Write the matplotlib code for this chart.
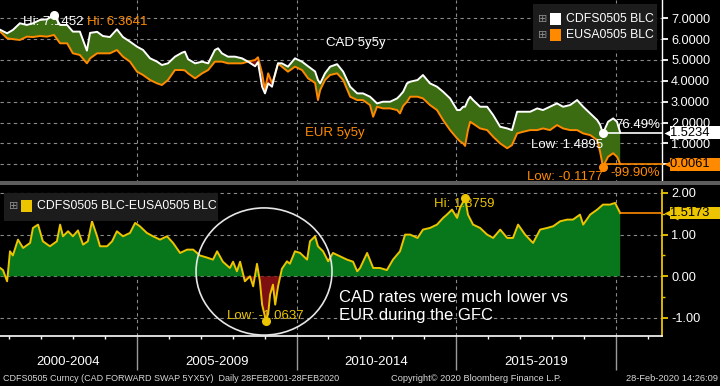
import numpy as np
import matplotlib
matplotlib.use("Agg")
import matplotlib.pyplot as plt
from matplotlib.patches import Ellipse, Rectangle
from matplotlib.transforms import blended_transform_factory as blend
from matplotlib.ticker import FuncFormatter, FormatStrFormatter, MultipleLocator, FixedLocator

plt.rcParams['font.family'] = ['Liberation Sans', 'DejaVu Sans']
plt.rcParams['axes.unicode_minus'] = False

# ---------------- data ----------------
top_years = [2000.71, 2000.93, 2001.11, 2001.33, 2001.55, 2001.74, 2001.96, 2002.18, 2002.40, 2002.59,
             2002.81, 2002.99, 2003.21, 2003.43, 2003.53, 2003.75, 2003.93, 2004.15, 2004.37, 2004.56,
             2004.78, 2005.00, 2005.19, 2005.41, 2005.63, 2005.78, 2005.97, 2006.19, 2006.41, 2006.50,
             2006.60, 2006.82, 2007.04, 2007.23, 2007.44, 2007.54, 2007.66, 2007.85, 2008.07, 2008.29,
             2008.48, 2008.70, 2008.79, 2008.92, 2009.01, 2009.11, 2009.23, 2009.33, 2009.42, 2009.54,
             2009.73, 2009.95, 2010.17, 2010.36, 2010.58, 2010.67, 2010.74, 2010.89, 2011.05, 2011.27,
             2011.46, 2011.68, 2011.90, 2012.08, 2012.30, 2012.40, 2012.52, 2012.71, 2012.93, 2013.15,
             2013.24, 2013.34, 2013.46, 2013.56, 2013.79, 2013.96, 2014.18, 2014.40, 2014.59, 2014.81,
             2015.03, 2015.12, 2015.22, 2015.28, 2015.37, 2015.44, 2015.53, 2015.75, 2015.97, 2016.16,
             2016.38, 2016.60, 2016.75, 2016.91, 2017.10, 2017.32, 2017.54, 2017.72, 2017.94, 2018.16,
             2018.35, 2018.57, 2018.79, 2018.98, 2019.20, 2019.42, 2019.51, 2019.60, 2019.76, 2019.92,
             2020.04, 2020.14]

cad_5y5y = [6.45, 6.28, 6.44, 6.76, 6.68, 6.76, 6.92, 6.95, 7.1452, 6.68,
            6.68, 6.36, 6.36, 5.45, 6.30, 6.35, 6.15, 6.10, 6.47, 6.10,
            5.88, 5.64, 5.48, 5.08, 4.92, 4.76, 4.84, 5.16, 5.35, 5.40,
            5.04, 4.84, 4.92, 4.84, 5.48, 5.56, 5.32, 5.16, 5.16, 5.08,
            4.92, 4.70, 4.90, 3.72, 3.40, 3.88, 3.72, 4.36, 4.84, 4.84,
            4.68, 5.08, 4.92, 4.70, 4.45, 4.04, 3.88, 4.36, 4.68, 4.80,
            4.44, 3.72, 3.40, 3.40, 3.24, 3.10, 2.92, 3.00, 3.00, 3.16,
            3.30, 3.48, 3.88, 3.96, 4.04, 4.28, 3.88, 3.72, 3.48, 3.16,
            2.60, 2.60, 2.76, 2.76, 3.08, 3.24, 3.08, 2.76, 2.76, 2.36,
            1.80, 1.72, 1.64, 2.52, 2.52, 2.52, 2.68, 2.60, 2.76, 2.92,
            2.76, 2.84, 3.08, 2.76, 2.44, 2.12, 1.90, 1.4895, 2.04, 2.20,
            2.04, 1.5234]

eur_5y5y = [6.3641, 6.04, 6.00, 5.96, 6.12, 6.10, 6.15, 6.12, 6.20, 5.80,
            5.80, 5.32, 5.24, 4.84, 5.08, 5.32, 5.32, 5.32, 5.48, 5.16,
            4.92, 4.44, 4.28, 4.04, 3.88, 3.80, 4.04, 4.52, 4.52, 4.50,
            4.36, 4.12, 4.36, 4.52, 4.92, 4.92, 4.92, 4.84, 4.84, 4.84,
            4.92, 5.00, 5.13, 4.36, 3.56, 4.36, 3.90, 4.30, 4.84, 4.68,
            4.44, 4.68, 4.52, 4.12, 3.90, 3.08, 3.56, 4.04, 4.28, 4.36,
            4.04, 3.24, 3.08, 3.08, 2.84, 2.28, 2.76, 2.68, 2.68, 2.60,
            2.44, 2.80, 3.00, 3.24, 3.24, 3.16, 2.84, 2.60, 2.12, 1.64,
            1.24, 1.10, 1.00, 0.88, 1.64, 2.04, 1.95, 1.72, 1.64, 1.32,
            1.00, 0.77, 0.92, 1.48, 1.56, 1.64, 1.64, 1.72, 1.64, 1.88,
            1.72, 1.64, 1.64, 1.48, 1.40, 1.16, 0.60, -0.1177, 0.36, 0.53,
            0.36, 0.0061]

spread_years = [2000.71, 2000.80, 2000.93, 2001.02, 2001.11, 2001.27, 2001.43, 2001.65, 2001.74, 2001.90,
                2002.05, 2002.27, 2002.49, 2002.59, 2002.68, 2002.84, 2002.99, 2003.15, 2003.31, 2003.46,
                2003.59, 2003.75, 2003.84, 2004.06, 2004.22, 2004.37, 2004.56, 2004.78, 2004.94, 2005.09,
                2005.31, 2005.50, 2005.72, 2005.94, 2006.13, 2006.35, 2006.57, 2006.76, 2006.97, 2007.19,
                2007.38, 2007.51, 2007.69, 2007.91, 2008.01, 2008.13, 2008.23, 2008.38, 2008.54, 2008.64,
                2008.76, 2008.85, 2008.92, 2009.04, 2009.11, 2009.17, 2009.26, 2009.33, 2009.42, 2009.54,
                2009.70, 2009.79, 2009.95, 2010.11, 2010.33, 2010.42, 2010.58, 2010.67, 2010.83, 2010.99,
                2011.14, 2011.36, 2011.58, 2011.77, 2011.90, 2011.99, 2012.21, 2012.40, 2012.61, 2012.83,
                2013.02, 2013.24, 2013.40, 2013.56, 2013.79, 2013.96, 2014.18, 2014.40, 2014.59, 2014.71,
                2014.87, 2015.03, 2015.12, 2015.28, 2015.37, 2015.53, 2015.75, 2015.97, 2016.16, 2016.38,
                2016.60, 2016.78, 2016.94, 2017.16, 2017.41, 2017.63, 2017.85, 2018.04, 2018.26, 2018.48,
                2018.66, 2018.88, 2018.98, 2019.20, 2019.42, 2019.60, 2019.82, 2019.98, 2020.14]

spread = [0.20, 0.15, -0.12, 0.60, 0.50, 0.88, 0.68, 0.80, 1.16, 1.24,
          0.84, 0.72, 0.84, 1.24, 0.96, 1.08, 0.96, 1.10, 0.76, 0.84,
          1.32, 0.96, 0.72, 0.72, 0.84, 1.08, 0.96, 1.04, 1.28, 1.20,
          1.04, 0.96, 0.88, 0.96, 0.80, 0.56, 0.64, 0.64, 0.50, 0.45,
          0.40, 0.60, 0.35, 0.20, 0.35, 0.12, 0.35, -0.12, 0.00, -0.24,
          0.30, -0.12, -0.68, -1.0637, -0.90, -0.44, -0.20, -0.68, -0.24, 0.18,
          0.36, 0.30, 0.60, 0.56, 0.40, 0.84, 0.96, 0.72, 0.60, 0.36,
          0.56, 0.48, 0.40, 0.35, 0.12, 0.20, 0.56, 0.20, 0.20, 0.15,
          0.40, 0.60, 1.00, 1.00, 0.92, 1.12, 1.16, 1.24, 1.40, 1.48,
          1.60, 1.40, 1.64, 1.8759, 1.48, 1.24, 1.16, 1.00, 0.92, 1.12,
          0.92, 0.92, 1.24, 1.00, 0.80, 1.12, 1.16, 1.20, 1.32, 1.36,
          1.36, 1.48, 1.24, 1.48, 1.60, 1.72, 1.72, 1.76, 1.5173]

period_edges = [2000, 2005, 2010, 2015, 2020]
period_labels = ["2000-2004", "2005-2009", "2010-2014", "2015-2019"]
top_ticks = [0, 1, 2, 3, 4, 5, 6, 7]
bottom_ticks = [-1, 0, 1, 2]

# ---------------- style ----------------
WHITE = '#ffffff'
ORANGE = '#ff8a00'
YELLOW = '#ecc400'
GREEN_TOP = '#3c6c12'
GREEN_BOT = '#08771b'
DARKRED = '#7d0f10'
GRID = '#8a8a8a'

W, H = 720, 386
fig = plt.figure(figsize=(W / 100, H / 100), dpi=100, facecolor='black')


def fx(px):
    return px / W


def fy(py):
    return 1 - py / H


X0, X1 = 2000.707, 2021.45
ax1 = fig.add_axes([0, fy(183), fx(662), 183 / H])
ax2 = fig.add_axes([0, fy(336), fx(662), 146 / H])

for ax in (ax1, ax2):
    ax.set_facecolor('black')
    ax.set_xlim(X0, X1)
    for s in ('top', 'left', 'bottom', 'right'):
        ax.spines[s].set_visible(False)
    ax.yaxis.tick_right()
    ax.set_xticks(period_edges[1:])
    ax.grid(True, which='major', color=GRID, linestyle=(0, (3, 3)), linewidth=0.8)
    ax.set_axisbelow(True)

ax1.set_ylim(-0.896, 7.876)
ax2.set_ylim(-1.432, 2.07)

# ---------------- top panel ----------------
t = np.array(top_years)
c = np.array(cad_5y5y)
e = np.array(eur_5y5y)
ax1.fill_between(t, e, c, where=c >= e, interpolate=True, color=GREEN_TOP, lw=0, zorder=2)
ax1.fill_between(t, e, c, where=c < e, interpolate=True, color=DARKRED, lw=0, zorder=2)
ax1.plot(t, e, color=ORANGE, lw=1.4, zorder=3)
ax1.plot(t, c, color=WHITE, lw=1.4, zorder=4)

ax1.yaxis.set_major_locator(FixedLocator(top_ticks))
# the 0.0000 label sits fully under the orange last-value tag in the reference
ax1.yaxis.set_major_formatter(FuncFormatter(lambda v, p: '' if abs(v) < 1e-9 else f"{v:.4f}"))
ax1.tick_params(axis='y', color=WHITE, labelcolor=WHITE, length=4, width=1.3, pad=2.5, labelsize=9.2)
ax1.tick_params(axis='x', length=0, labelbottom=False)
ax1.spines['right'].set_visible(True)
ax1.spines['right'].set_color(WHITE)
ax1.spines['right'].set_linewidth(1.0)

i_hi = int(np.argmax(c))
i_lo = int(np.argmin(c))
k_lo = int(np.argmin(e))

ax1.text(2001.43, 6.81, "Hi: 7.1452", color=WHITE, fontsize=9.5, ha='left', va='center', zorder=2.5)
ax1.text(2003.44, 6.81, "Hi: 6.3641", color=ORANGE, fontsize=9.5, ha='left', va='center', zorder=2.5)
ax1.plot(t[i_hi], c[i_hi], 'o', color=WHITE, ms=5.5, zorder=6)

ax1.plot([t[i_lo], X1], [c[-1], c[-1]], color=WHITE, lw=1.2, zorder=5, clip_on=False)
ax1.plot([t[k_lo], X1], [e[-1], e[-1]], color=ORANGE, lw=1.2, zorder=5, clip_on=False)
ax1.plot(t[i_lo], c[i_lo], 'o', color=WHITE, ms=5.5, zorder=6)
ax1.plot(t[k_lo], e[k_lo], 'o', color=ORANGE, ms=5.5, zorder=6)

ax1.text(t[i_lo], 0.93, "Low: 1.4895", color=WHITE, fontsize=9.5, ha='right', va='center', zorder=7)
ax1.text(t[k_lo], -0.59, "Low: -0.1177", color=ORANGE, fontsize=9.5, ha='right', va='center', zorder=7)
ax1.text(2021.39, 1.88, "76.49%", color=WHITE, fontsize=9.5, ha='right', va='center', zorder=7)
ax1.text(2021.39, -0.40, "-99.90%", color=ORANGE, fontsize=9.5, ha='right', va='center', zorder=7)
ax1.text(2010.92, 5.80, "CAD 5y5y", color=WHITE, fontsize=9.5, ha='left', va='center', zorder=7)
ax1.text(2010.27, 1.49, "EUR 5y5y", color=ORANGE, fontsize=9.5, ha='left', va='center', zorder=7)

# ---------------- bottom panel ----------------
sy = np.array(spread_years)
sv = np.array(spread)
ax2.fill_between(sy, 0, sv, where=sv >= 0, interpolate=True, color=GREEN_BOT, lw=0, zorder=2)
ax2.fill_between(sy, 0, sv, where=sv < 0, interpolate=True, color=DARKRED, lw=0, zorder=2)
ax2.plot(sy, sv, color=YELLOW, lw=1.4, zorder=3)

ax2.yaxis.set_major_locator(FixedLocator(bottom_ticks))
ax2.yaxis.set_major_formatter(FormatStrFormatter('%.2f'))
ax2.yaxis.set_minor_locator(MultipleLocator(0.5))
ax2.tick_params(axis='y', which='major', color=YELLOW, labelcolor=WHITE, length=4, width=1.3,
                pad=2.5, labelsize=9.2)
ax2.tick_params(axis='y', which='minor', color=YELLOW, length=2.5, width=1)
ax2.xaxis.set_minor_locator(MultipleLocator(1))
ax2.tick_params(axis='x', which='major', direction='out', length=24.5, width=1, color='#9a9a9a',
                labelbottom=False)
ax2.tick_params(axis='x', which='minor', direction='out', length=2.5, width=1, color=WHITE)
ax2.spines['right'].set_visible(True)
ax2.spines['right'].set_color(YELLOW)
ax2.spines['right'].set_linewidth(1.3)
ax2.spines['bottom'].set_visible(True)
ax2.spines['bottom'].set_color(WHITE)
ax2.spines['bottom'].set_linewidth(1.2)

j_lo = int(np.argmin(sv))
j_hi = int(np.argmax(sv))
ax2.text(2007.82, -0.95, "Low: -1.0637", color=YELLOW, fontsize=9.5, ha='left', va='center', zorder=4)
ax2.plot(sy[j_lo], sv[j_lo], 'o', color=YELLOW, ms=5.5, zorder=6)
ax2.text(2014.31, 1.73, "Hi: 1.8759", color=YELLOW, fontsize=9.5, ha='left', va='center', zorder=4)
ax2.plot(sy[j_hi], sv[j_hi], 'o', color=YELLOW, ms=5.5, zorder=6)
ax2.plot([sy[-1], X1], [sv[-1], sv[-1]], color=ORANGE, lw=1.2, zorder=5, clip_on=False)

ax2.text(2011.34, -0.72, "CAD rates were much lower vs\nEUR during the GFC", color=WHITE,
         fontsize=12, ha='left', va='center', linespacing=1.2, zorder=7)
ax2.add_patch(Ellipse((2008.98, 0.115), width=4.26, height=3.05, fill=False,
                      ec='#e6e6e6', lw=1.2, zorder=8, clip_on=False))

tr = blend(ax2.transData, ax2.transAxes)
for lab, a, b in zip(period_labels, period_edges[:-1], period_edges[1:]):
    cx = (max(a, X0) + b) / 2
    ax2.text(cx, -26 / 146, lab, transform=tr, ha='center', va='center', color=WHITE,
             fontsize=9.5, clip_on=False)


# ---------------- last value tags ----------------
def tag(ax, val, fc):
    trb = blend(ax.transAxes, ax.transData)
    ax.plot([1.0136], [val], marker='<', ms=10.5, color=fc, mec='none', transform=trb,
            clip_on=False, zorder=10)
    ax.annotate(f"{val:.4f}   ", xy=(1.0, val), xycoords=trb, xytext=(5.8, 0),
                textcoords='offset points', ha='left', va='center', fontsize=9.3, color='black',
                bbox=dict(boxstyle='square,pad=0.03', fc=fc, ec='none'),
                annotation_clip=False, zorder=11)


tag(ax1, c[-1], WHITE)
tag(ax1, e[-1], ORANGE)
tag(ax2, sv[-1], YELLOW)

# ---------------- legends ----------------
def legend_box(x0, y0, x1, y1):
    fig.add_artist(Rectangle((fx(x0), fy(y1)), fx(x1) - fx(x0), (y1 - y0) / H,
                             transform=fig.transFigure, fc='#1c1c1c', ec='none', zorder=20))


def legend_entry(x, y, color, label):
    fig.text(fx(x), fy(y), '\u229e', color='#8c8c8c', fontsize=8, ha='center', va='center',
             zorder=21, family=['DejaVu Sans'])
    fig.add_artist(Rectangle((fx(x + 7), fy(y + 6)), 11 / W, 12 / H, transform=fig.transFigure,
                             fc=color, ec='none', zorder=21))
    fig.text(fx(x + 23), fy(y), label, color=WHITE, fontsize=8.8, ha='left', va='center', zorder=21)


legend_box(533, 4, 657, 50)
legend_entry(543, 19, WHITE, "CDFS0505 BLC")
legend_entry(543, 35, ORANGE, "EUSA0505 BLC")
legend_box(4, 193, 218, 221)
legend_entry(14, 206, YELLOW, "CDFS0505 BLC-EUSA0505 BLC")

# separator between panels
fig.add_artist(Rectangle((0, fy(185.5)), 1, 4 / H, transform=fig.transFigure,
                         fc='#5d5d5d', ec='none', zorder=15))

# ---------------- footer ----------------
FOOT = '#d8d8d8'
fig.text(fx(3), fy(378.5), "CDFS0505 Curncy (CAD FORWARD SWAP 5YX5Y)  Daily 28FEB2001-28FEB2020",
         color=FOOT, fontsize=6.5, ha='left', va='center')
fig.text(fx(391), fy(378.5), "Copyright\u00a9 2020 Bloomberg Finance L.P.", color=FOOT,
         fontsize=6.7, ha='left', va='center')
fig.text(fx(718), fy(378.5), "28-Feb-2020 14:26:09", color=FOOT, fontsize=6.7, ha='right', va='center')

fig.savefig('out.png', dpi=100, facecolor='black')
